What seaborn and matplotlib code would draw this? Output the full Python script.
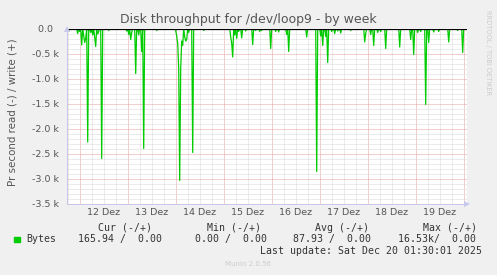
import numpy as np
import pandas as pd
import matplotlib
matplotlib.use("Agg")
import matplotlib.pyplot as plt
import matplotlib.dates as mdates
import matplotlib.ticker as mticker
import seaborn as sns

# ---------------- data ----------------
start_time = "2025-12-11 17:30"
n_slots = 401                      # 30-minute samples up to Dec 20 01:30
spike_slots = [2, 11, 13, 15, 17, 18, 19, 21, 24, 26, 28, 29, 31, 32, 35, 42,
               60, 62, 64, 65, 69, 72, 75, 77, 90, 109, 110, 111, 112, 113, 114,
               115, 116, 118, 119, 120, 122, 126, 137, 164, 165, 166, 168, 170,
               172, 175, 179, 186, 189, 193, 195, 204, 209, 212, 220, 222, 240,
               250, 254, 256, 259, 261, 265, 268, 271, 274, 284, 298, 299, 304,
               307, 311, 314, 319, 333, 344, 347, 351, 354, 359, 362, 367, 372,
               382, 391, 396]
spike_values = [-40, -100, -60, -330, -150, -280, -200, -2270, -80, -130, -180,
                -360, -110, -60, -2600, -40,
                -50, -120, -220, -80, -900, -130, -460, -2400, -40, -40, -150,
                -300, -800, -3040, -800,
                -250, -340, -170, -250, -220, -80, -2480, -40, -170, -300, -570,
                -130, -200,
                -60, -190, -50, -320, -40, -60, -40, -400, -60, -70, -120, -460,
                -170,
                -2860, -150, -340, -160, -680, -60, -100, -50, -90, -40, -270,
                -100, -120,
                -340, -80, -60, -400, -370, -220, -520, -80, -60, -1520, -280,
                -70, -60,
                -270, -40, -480]
write_value = 0.0

y_ticks = [0, -500, -1000, -1500, -2000, -2500, -3000, -3500]
y_tick_labels = ["0.0  ", "-0.5 k", "-1.0 k", "-1.5 k", "-2.0 k", "-2.5 k",
                 "-3.0 k", "-3.5 k"]
day_label_fmt = "%d Dez"

title = "Disk throughput for /dev/loop9 - by week"
y_label = "Pr second read (-) / write (+)"
legend_name = "Bytes"
legend_headers = ["Cur (-/+)", "Min (-/+)", "Avg (-/+)", "Max (-/+)"]
legend_values = ["165.94 /  0.00", "0.00 /  0.00", "87.93 /  0.00",
                 "16.53k/  0.00"]
last_update = "Last update: Sat Dec 20 01:30:01 2025"
munin_version = "Munin 2.0.56"
side_text = "RRDTOOL / TOBI OETIKER"

# ---------------- build frame ----------------
times = pd.date_range(start_time, periods=n_slots, freq="30min")
read = np.zeros(n_slots)
read[spike_slots] = spike_values
df = pd.DataFrame({"time": times, "read": read,
                   "write": np.full(n_slots, write_value)})

# ---------------- figure ----------------
sns.set_theme(style="white")
plt.rcParams["font.family"] = ["DejaVu Sans"]
W, H = 497, 275
fig = plt.figure(figsize=(W / 100, H / 100), dpi=100, facecolor="#f0f0f0")
ax = fig.add_axes([66.7 / W, 1 - 203.5 / H, 400 / W, 175 / H])
ax.set_facecolor("white")

green = "#00cc00"
sns.lineplot(data=df, x="time", y="read", color=green, lw=0.9, ax=ax,
             zorder=3, estimator=None)
sns.lineplot(data=df, x="time", y="write", color="black", lw=0.9, ax=ax,
             zorder=4, estimator=None)

ax.set_xlim(times[0], times[-1])
ax.set_ylim(-3500, 0)

# grid
ax.xaxis.set_major_locator(mdates.DayLocator())
ax.xaxis.set_minor_locator(mdates.HourLocator(byhour=[0, 6, 12, 18]))
ax.xaxis.set_major_formatter(mticker.NullFormatter())


def minor_fmt(v, pos):
    d = mdates.num2date(v)
    return d.strftime(day_label_fmt) if d.hour == 12 else ""


ax.xaxis.set_minor_formatter(mticker.FuncFormatter(minor_fmt))
ax.yaxis.set_major_locator(mticker.FixedLocator(y_ticks))
ax.yaxis.set_major_formatter(mticker.FixedFormatter(y_tick_labels))
ax.yaxis.set_minor_locator(mticker.MultipleLocator(100))

dot = (0, (1, 1))
ax.grid(which="minor", color="#d8d8d8", lw=0.72, ls=dot)
ax.grid(which="major", color="#e6a0a0", lw=0.72, ls=dot)
ax.set_axisbelow(True)

ax.tick_params(which="both", length=0, colors="#555555", labelsize=6.8)
ax.tick_params(axis="y", pad=5.3)
ax.tick_params(axis="x", which="minor", pad=3.5)
ax.set_xlabel("")
ax.set_ylabel("")

for s in ["top", "right"]:
    ax.spines[s].set_visible(False)
for s in ["left", "bottom"]:
    ax.spines[s].set_color("#c8c8ec")
    ax.spines[s].set_linewidth(0.72)
ax.plot([0], [1.0], marker="^", ms=4, color="#c8c8ec", transform=ax.transAxes,
        clip_on=False, zorder=5, mew=0)
ax.plot([1.0], [0], marker=">", ms=4, color="#c8c8ec", transform=ax.transAxes,
        clip_on=False, zorder=5, mew=0)

# texts
fig.text(248 / W, 1 - 19 / H, title, ha="center", va="center", fontsize=9,
         color="#555555")
fig.text(13 / W, 1 - 112 / H, y_label, rotation=90, ha="center", va="center",
         fontsize=7.4, color="#555555")
fig.text(487.7 / W, 1 - 53 / H, side_text, rotation=270, ha="center",
         va="center", fontsize=4.8, color="#cccccc")

mono = "DejaVu Sans Mono"
fs = 7.1
hdr_x = [98.3, 206.7, 315, 422.7]
val_x = [77.7, 195, 293.3, 398.3]
for x, t in zip(hdr_x, legend_headers):
    fig.text(x / W, 1 - 227.7 / H, t, family=mono, fontsize=fs, color="#333333",
             ha="left", va="center")
fig.text(26.7 / W, 1 - 239.3 / H, legend_name, family=mono, fontsize=fs,
         color="#333333", ha="left", va="center")
for x, t in zip(val_x, legend_values):
    fig.text(x / W, 1 - 239.3 / H, t, family=mono, fontsize=fs,
             color="#333333", ha="left", va="center")
fig.patches.append(plt.Rectangle((14 / W, 1 - 242 / H), 5.5 / W, 5.5 / H,
                                 transform=fig.transFigure, color=green))
fig.text(482.3 / W, 1 - 251 / H, last_update, family=mono, fontsize=fs,
         color="#333333", ha="right", va="center")
fig.text(248 / W, 1 - 264 / H, munin_version, fontsize=5, color="#cccccc",
         ha="center", va="center")

fig.savefig("out.png", dpi=100, facecolor=fig.get_facecolor())
